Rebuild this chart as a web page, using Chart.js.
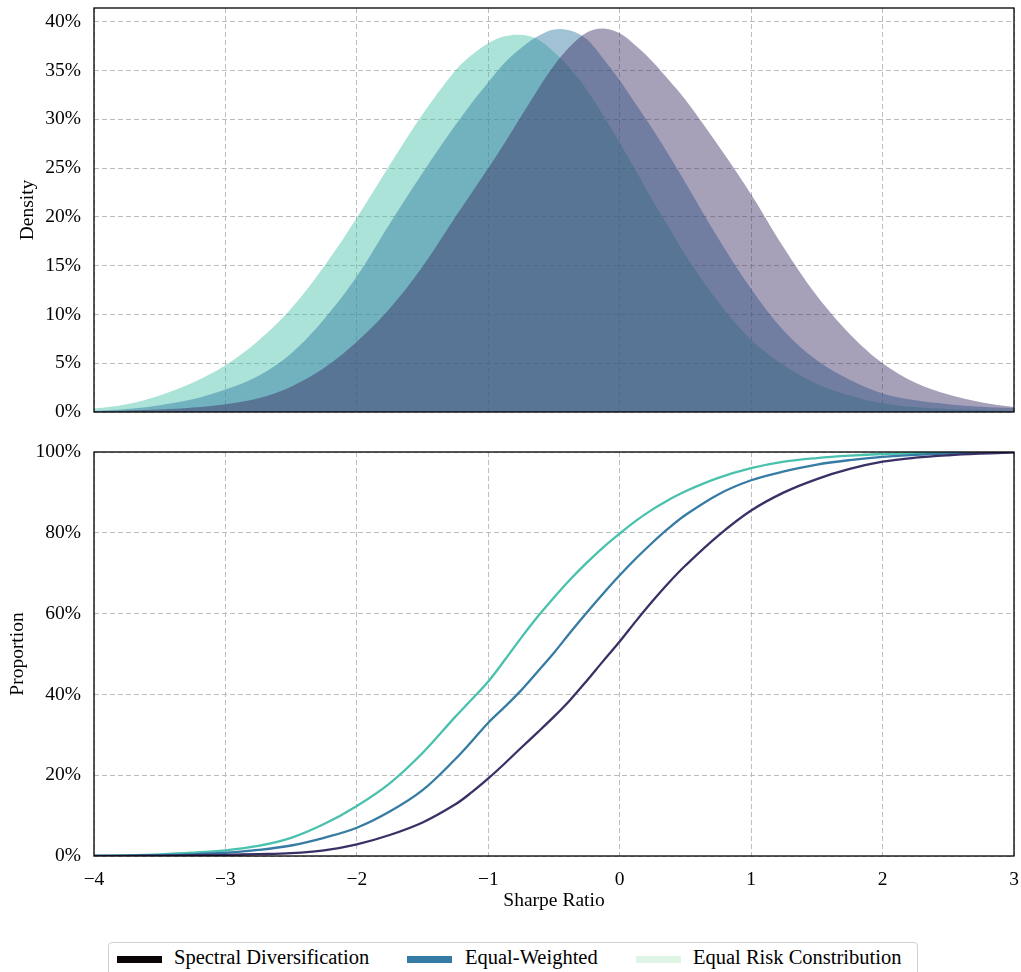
<!DOCTYPE html>
<html>
<head>
<meta charset="utf-8">
<script src="https://cdn.jsdelivr.net/npm/chart.js@4.4.1/dist/chart.umd.min.js"></script>
<style>
  html, body { margin: 0; padding: 0; background: #fff; }
  body { width: 1021px; height: 972px; position: relative; overflow: hidden; font-family: "Liberation Serif", "DejaVu Serif", serif; }
  canvas { position: absolute; left: 0; }
  #c1 { top: 0; }
  #c2 { top: 420px; }
  #legend { position: absolute; left: 108px; top: 942px; width: 810px; height: 44px; border: 1px solid #cfcfcf; border-radius: 4px; box-sizing: border-box; }
  .h { position: absolute; height: 7px; width: 45px; top: 13px; }
  .t { position: absolute; top: 3px; font-size: 20.5px; line-height: 22px; color: #000; white-space: nowrap; }
</style>
</head>
<body>
<canvas id="c1" width="1021" height="420"></canvas>
<canvas id="c2" width="1021" height="510"></canvas>
<div id="legend">
  <div class="h" style="left:8px;background:#0b0405"></div><div class="t" style="left:65px">Spectral Diversification</div>
  <div class="h" style="left:298px;background:#357ba3"></div><div class="t" style="left:356px">Equal-Weighted</div>
  <div class="h" style="left:527px;background:#def5e5"></div><div class="t" style="left:584px">Equal Risk Constribution</div>
</div>
<script>
// Sharpe ratio grid
const sharpeGrid = [-4, -3.75, -3.5, -3.25, -3, -2.75, -2.5, -2.25, -2, -1.75, -1.5, -1.25, -1.125, -1, -0.875, -0.75, -0.625, -0.5, -0.375, -0.25, -0.125, 0, 0.125, 0.25, 0.375, 0.5, 0.75, 1, 1.25, 1.5, 1.75, 2, 2.25, 2.5, 2.75, 3];

// Density (%)
const densitySpectral = [0.05, 0.15, 0.25, 0.45, 0.8, 1.4, 2.6, 4.5, 7.2, 10.6, 14.9, 20.0, 22.5, 25.0, 27.6, 30.3, 33.0, 35.5, 37.5, 38.9, 39.3, 38.8, 37.5, 35.9, 34.0, 32.0, 27.3, 22.3, 16.8, 11.9, 8.0, 5.0, 3.0, 1.8, 1.0, 0.5];
const densityEqualWeighted = [0.1, 0.3, 0.7, 1.3, 2.3, 3.7, 6.0, 9.5, 13.9, 19.3, 24.5, 29.4, 31.7, 33.8, 35.8, 37.3, 38.5, 39.2, 39.1, 38.2, 36.2, 34.0, 31.5, 29.0, 26.3, 23.5, 17.8, 12.6, 8.3, 5.3, 3.3, 1.9, 1.2, 0.8, 0.55, 0.4];
const densityERC = [0.35, 0.8, 1.7, 3.0, 4.8, 7.3, 10.6, 14.9, 19.9, 25.3, 30.5, 35.0, 36.6, 37.8, 38.5, 38.65, 38.2, 36.9, 35.2, 33.0, 30.4, 27.6, 24.7, 21.7, 18.9, 16.1, 11.3, 7.4, 4.8, 2.9, 1.7, 0.9, 0.5, 0.3, 0.2, 0.1];

// Cumulative proportion (%)
const cdfSpectral = [0, 0.05, 0.1, 0.2, 0.3, 0.45, 0.7, 1.4, 2.9, 5.2, 8.3, 12.8, 15.8, 19.2, 22.9, 26.8, 30.6, 34.5, 38.7, 43.4, 48.3, 53.1, 58.2, 63.1, 67.7, 71.9, 79.3, 85.5, 90.0, 93.3, 95.8, 97.6, 98.6, 99.2, 99.6, 99.9];
const cdfEqualWeighted = [0, 0.1, 0.2, 0.4, 0.8, 1.5, 2.6, 4.5, 7.0, 11.0, 16.3, 24.0, 28.4, 33.0, 36.9, 41.0, 45.6, 50.3, 55.4, 60.3, 65.0, 69.5, 73.7, 77.6, 81.2, 84.4, 89.5, 93.0, 95.2, 96.9, 98.0, 98.8, 99.3, 99.6, 99.8, 99.95];
const cdfERC = [0, 0.15, 0.4, 0.8, 1.4, 2.5, 4.5, 7.9, 12.4, 18.0, 25.5, 34.5, 38.8, 43.2, 48.5, 54.0, 59.2, 64.0, 68.5, 72.6, 76.4, 79.8, 83.0, 85.8, 88.2, 90.3, 93.6, 96.0, 97.6, 98.5, 99.1, 99.5, 99.7, 99.85, 99.9, 100];

const seriesNames = ['Spectral Diversification', 'Equal-Weighted', 'Equal Risk Constribution'];
const xTicks = [-4, -3, -2, -1, 0, 1, 2, 3];

const FONT = { family: '"Liberation Serif", "DejaVu Serif", serif', size: 19.5 };
const toPts = (ys) => sharpeGrid.map((x, i) => ({ x: x, y: ys[i] }));
const minus = (s) => String(s).replace('-', '\u2212');

const frame = {
  id: 'frame',
  afterDraw(chart) {
    const a = chart.chartArea, ctx = chart.ctx;
    ctx.save();
    ctx.strokeStyle = '#000';
    ctx.lineWidth = 1.3;
    ctx.strokeRect(a.left, a.top, a.right - a.left, a.bottom - a.top);
    ctx.restore();
  }
};

const gridStyle = { color: '#bdbdbd', lineWidth: 1, drawTicks: false };
const borderStyle = { display: false, dash: [5, 3] };
const noPad = (s) => { s.paddingTop = 0; s.paddingBottom = 0; s.paddingLeft = 0; s.paddingRight = 0; };

function xScale(showTicks, height) {
  return {
    type: 'linear', min: -4, max: 3,
    afterBuildTicks: (s) => { s.ticks = xTicks.map(v => ({ value: v })); },
    ticks: { display: showTicks, font: FONT, color: '#000', padding: 12, callback: (v) => minus(v) },
    grid: gridStyle, border: borderStyle,
    title: { display: showTicks, text: 'Sharpe Ratio', font: FONT, color: '#000', padding: { top: 0, bottom: 17 } },
    afterFit: (s) => { s.height = height; noPad(s); }
  };
}

const lineCommon = { pointRadius: 0, tension: 0.35 };

new Chart(document.getElementById('c1'), {
  type: 'line',
  data: {
    datasets: [
      Object.assign({ label: seriesNames[0], data: toPts(densitySpectral), backgroundColor: 'rgba(57,44,99,0.45)', fill: 'origin', borderWidth: 0 }, lineCommon),
      Object.assign({ label: seriesNames[1], data: toPts(densityEqualWeighted), backgroundColor: 'rgba(44,120,160,0.45)', fill: 'origin', borderWidth: 0 }, lineCommon),
      Object.assign({ label: seriesNames[2], data: toPts(densityERC), backgroundColor: 'rgba(68,193,168,0.45)', fill: 'origin', borderWidth: 0 }, lineCommon)
    ]
  },
  options: {
    responsive: false, animation: false, devicePixelRatio: 1,
    layout: { autoPadding: false, padding: { top: 8, right: 7, left: 0, bottom: 0 } },
    plugins: { legend: { display: false }, tooltip: { enabled: false } },
    scales: {
      x: xScale(false, 8),
      y: {
        min: 0, max: 41.4,
        ticks: { stepSize: 5, includeBounds: false, font: FONT, color: '#000', padding: 13, callback: (v) => v + '%' },
        grid: gridStyle, border: borderStyle,
        title: { display: true, text: 'Density', font: FONT, color: '#000', padding: { top: 16, bottom: 0 } },
        afterFit: (s) => { s.width = 94; noPad(s); }
      }
    }
  },
  plugins: [frame]
});

new Chart(document.getElementById('c2'), {
  type: 'line',
  data: {
    datasets: [
      Object.assign({ label: seriesNames[0], data: toPts(cdfSpectral), borderColor: '#3a3066', borderWidth: 2.3, fill: false }, lineCommon),
      Object.assign({ label: seriesNames[1], data: toPts(cdfEqualWeighted), borderColor: '#357ba3', borderWidth: 2.3, fill: false }, lineCommon),
      Object.assign({ label: seriesNames[2], data: toPts(cdfERC), borderColor: '#49c1ad', borderWidth: 2.3, fill: false }, lineCommon)
    ]
  },
  options: {
    responsive: false, animation: false, devicePixelRatio: 1,
    layout: { autoPadding: false, padding: { top: 32, right: 7, left: 0, bottom: 0 } },
    plugins: { legend: { display: false }, tooltip: { enabled: false } },
    scales: {
      x: xScale(true, 74),
      y: {
        min: 0, max: 100,
        ticks: { stepSize: 20, font: FONT, color: '#000', padding: 13, callback: (v) => v + '%' },
        grid: gridStyle, border: borderStyle,
        title: { display: true, text: 'Proportion', font: FONT, color: '#000', padding: { top: 6, bottom: 0 } },
        afterFit: (s) => { s.width = 94; noPad(s); }
      }
    }
  },
  plugins: [frame]
});
</script>
</body>
</html>
